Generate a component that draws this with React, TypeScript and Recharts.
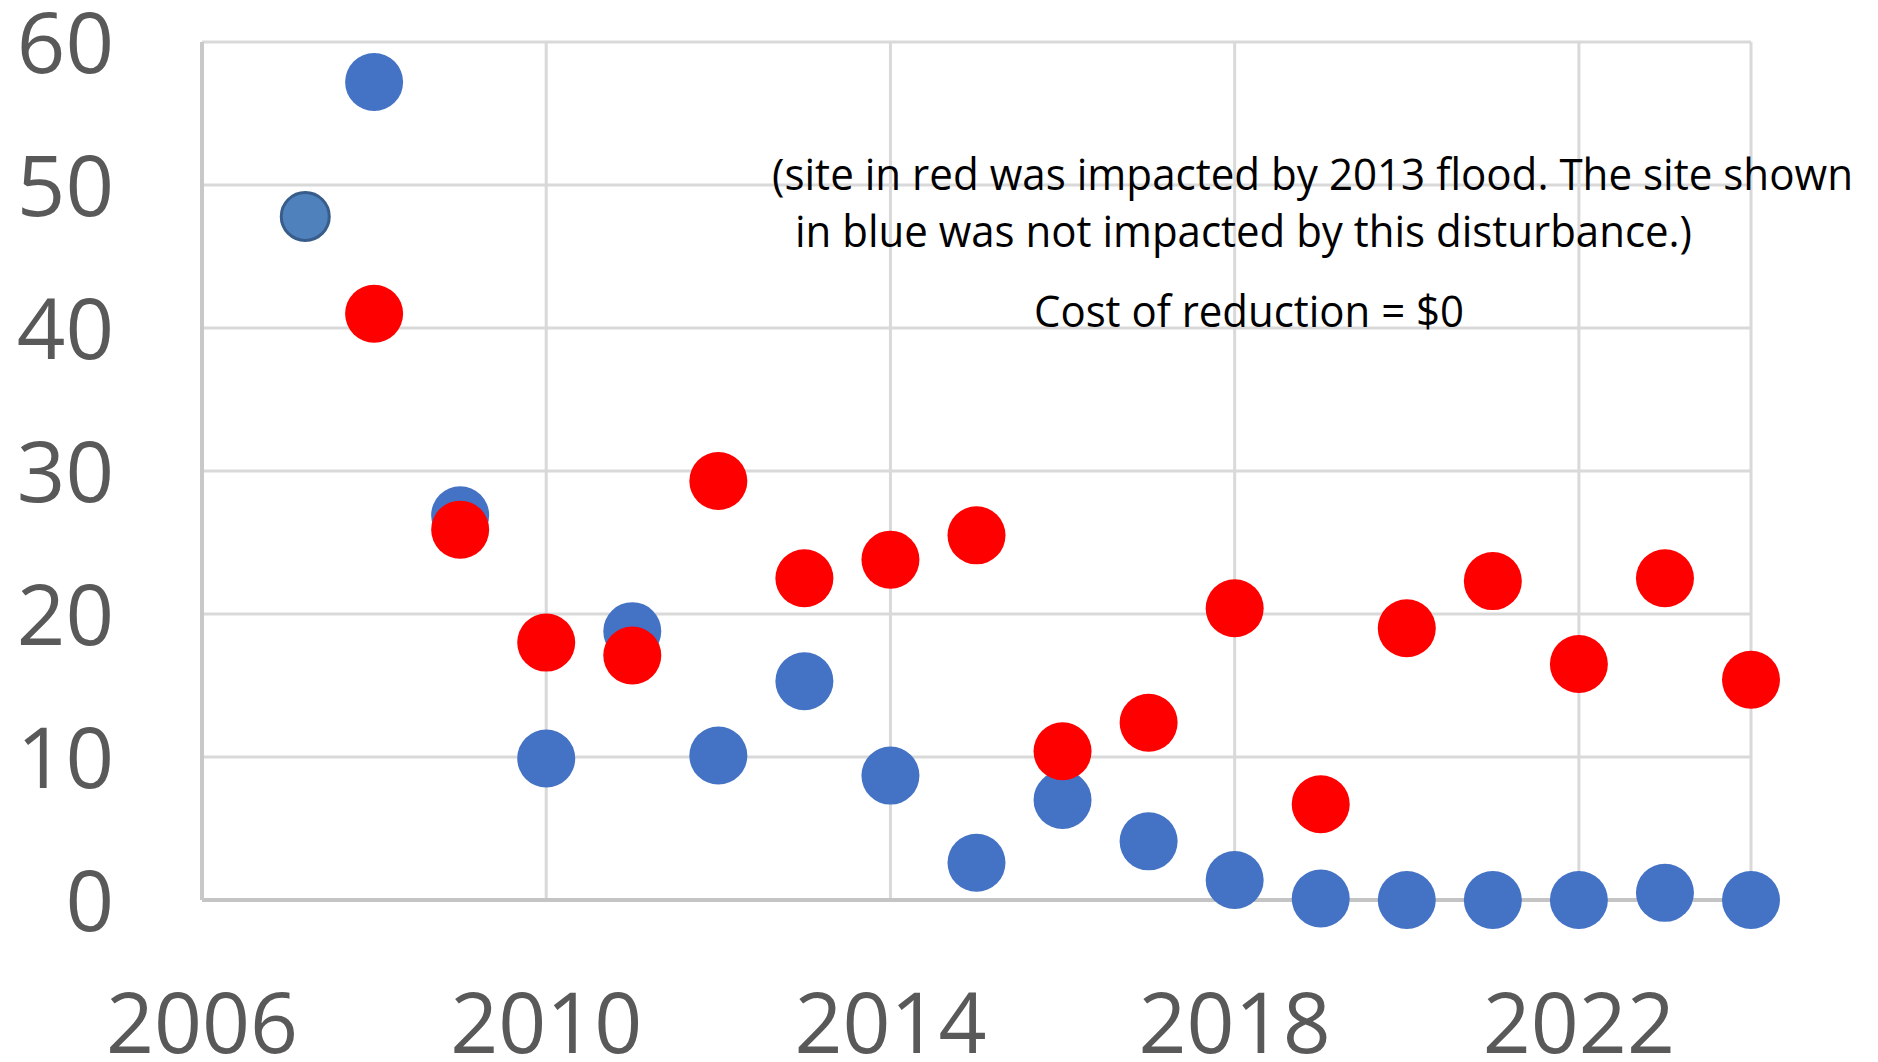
import React from "react";
import { ScatterChart, Scatter, XAxis, YAxis, CartesianGrid } from "recharts";

// sample years for both sites
const years = [2008, 2009, 2010, 2011, 2012, 2013, 2014, 2015, 2016, 2017, 2018, 2019, 2020, 2021, 2022, 2023, 2024];
// site not hit by the 2013 flood
const blueValues = [57.2, 26.9, 9.9, 18.8, 10.1, 15.3, 8.7, 2.6, 7.0, 4.1, 1.4, 0.1, 0, 0, 0, 0.5, 0];
// site hit by the 2013 flood
const redValues = [41.0, 25.9, 18.0, 17.1, 29.3, 22.5, 23.8, 25.5, 10.4, 12.4, 20.4, 6.7, 19.0, 22.3, 16.5, 22.5, 15.4];
// the first blue point is drawn with an outline
const outlinedYears = [2007.2];
const outlinedValues = [47.8];

const xTicks = [2006, 2010, 2014, 2018, 2022];
const yTicks = [0, 10, 20, 30, 40, 50, 60];

const noteLines = [
  "(site in red was impacted by 2013 flood. The site shown",
  " in blue was not impacted by this disturbance.)",
  "Cost of reduction = $0",
];

const FONT = "'Open Sans', 'Liberation Sans', sans-serif";
const TICK_COLOR = "#595959";

const toPoints = (xs: number[], ys: number[]) => xs.map((x, i) => ({ x, y: ys[i] }));

const dot = (fill: string, r: number, stroke = "none", strokeWidth = 0) => (props: any) => (
  <circle cx={props.cx} cy={props.cy} r={r} fill={fill} stroke={stroke} strokeWidth={strokeWidth} />
);

const YTick = ({ x, y, payload }: any) => (
  <text x={x} y={y} dy={31} textAnchor="end" fontFamily={FONT} fontSize={85} fill={TICK_COLOR}>
    {payload.value}
  </text>
);

const XTick = ({ x, y, payload }: any) => (
  <text x={x} y={y} dy={153} textAnchor="middle" fontFamily={FONT} fontSize={84} fill={TICK_COLOR}>
    {payload.value}
  </text>
);

export default function App() {
  const blue = toPoints(years, blueValues);
  const red = toPoints(years, redValues);
  const outlined = toPoints(outlinedYears, outlinedValues);

  return (
    <div style={{ position: "absolute", left: 0, top: 0, width: 1878, height: 1062, background: "#fff" }}>
      <ScatterChart width={1878} height={1062} margin={{ top: 42, right: 127, bottom: 0, left: 2 }}>
        <CartesianGrid stroke="#D9D9D9" strokeWidth={3} />
        <XAxis
          type="number"
          dataKey="x"
          domain={[2006, 2024]}
          ticks={xTicks}
          height={162}
          tickSize={0}
          tickMargin={0}
          tickLine={false}
          axisLine={{ stroke: "#C4C4C4", strokeWidth: 4 }}
          tick={<XTick />}
        />
        <YAxis
          type="number"
          dataKey="y"
          domain={[0, 60]}
          ticks={yTicks}
          width={200}
          tickSize={0}
          tickMargin={88}
          tickLine={false}
          axisLine={{ stroke: "#C8C8C8", strokeWidth: 4 }}
          tick={<YTick />}
        />
        <Scatter data={outlined} isAnimationActive={false} shape={dot("#4F81BD", 24, "#385D8A", 3)} />
        <Scatter data={blue} isAnimationActive={false} shape={dot("#4472C4", 29)} />
        <Scatter data={red} isAnimationActive={false} shape={dot("#FF0000", 29)} />
      </ScatterChart>
      <svg width={1878} height={1062} style={{ position: "absolute", left: 0, top: 0, pointerEvents: "none" }}>
        <text x={772} y={190} fontFamily={FONT} fontSize={44} fill="#000" textLength={1081} lengthAdjust="spacingAndGlyphs">
          {noteLines[0]}
        </text>
        <text x={795} y={247} fontFamily={FONT} fontSize={44} fill="#000" textLength={897} lengthAdjust="spacingAndGlyphs">
          {noteLines[1].trim()}
        </text>
        <text x={1034} y={327} fontFamily={FONT} fontSize={44} fill="#000" textLength={430} lengthAdjust="spacingAndGlyphs">
          {noteLines[2]}
        </text>
      </svg>
    </div>
  );
}
